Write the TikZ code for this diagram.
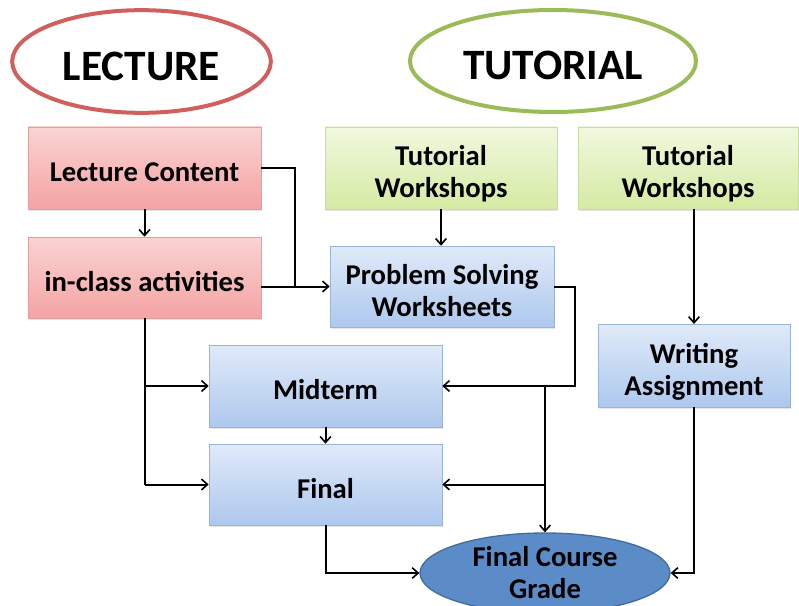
\documentclass[tikz,border=0pt]{standalone}
\usepackage{fontspec}
\setmainfont{Carlito}
\usetikzlibrary{arrows.meta,shapes.geometric,shadows}
\definecolor{pinktop}{HTML}{FBD3D3}
\definecolor{pinkbot}{HTML}{F4A3A3}
\definecolor{pinkline}{HTML}{E0A0A0}
\definecolor{greentop}{HTML}{F0F8DF}
\definecolor{greenbot}{HTML}{D5EAA2}
\definecolor{greenline}{HTML}{C8DCA0}
\definecolor{bluetop}{HTML}{E0EAF9}
\definecolor{bluebot}{HTML}{ADC8EE}
\definecolor{blueline}{HTML}{9AB4D8}
\definecolor{redring}{HTML}{D0605E}
\definecolor{greenring}{HTML}{9BBB59}
\definecolor{gradefill}{HTML}{5B8CC8}
\definecolor{gradeline}{HTML}{3F6E9E}
\newcommand\boxtxt[1]{\raisebox{-5.5pt}[\height][\depth]{\begin{tabular}{@{}c@{}}#1\end{tabular}}}
\newcommand\ringtxt[1]{\raisebox{-3.5pt}[\height][\depth]{#1}}
\begin{document}
\begin{tikzpicture}[x=0.75pt,y=-0.75pt,
  box/.style={rectangle, inner sep=0pt,
    font=\fontsize{21.5}{24}\selectfont\bfseries,
    drop shadow={opacity=0.2,shadow xshift=1pt,shadow yshift=-1.5pt}},
  pinkbox/.style={box, draw=pinkline, top color=pinktop, bottom color=pinkbot},
  greenbox/.style={box, draw=greenline, top color=greentop, bottom color=greenbot},
  bluebox/.style={box, draw=blueline, top color=bluetop, bottom color=bluebot},
  ring/.style={ellipse, line width=3pt, fill=white, inner sep=0pt,
    font=\fontsize{32.5}{36}\selectfont\bfseries},
  conn/.style={line width=1.5pt, black},
  arr/.style={conn, -{Straight Barb[length=4.5pt,width=8pt,line width=1.2pt]}}
]
\useasboundingbox (0,0) rectangle (799,606);

\node[ring, draw=redring, minimum width=194pt, minimum height=77pt] (lec) at (141.5,61.5) {\ringtxt{LECTURE}};
\node[ring, draw=greenring, minimum width=214.5pt, minimum height=76.5pt] (tut) at (553,61) {\ringtxt{TUTORIAL}};

\node[pinkbox, minimum width=174.75pt, minimum height=61.5pt] (lc) at (144.5,168) {\boxtxt{Lecture Content}};
\node[pinkbox, minimum width=174.75pt, minimum height=60.75pt] (ica) at (144.5,277.5) {\boxtxt{in-class activities}};
\node[greenbox, minimum width=174pt, minimum height=61.5pt] (tw1) at (441,168) {\boxtxt{Tutorial\\Workshops}};
\node[greenbox, minimum width=165pt, minimum height=61.5pt] (tw2) at (688,168) {\boxtxt{Tutorial\\Workshops}};
\node[bluebox, minimum width=168pt, minimum height=60.75pt] (psw) at (442,286.5) {\boxtxt{Problem Solving\\Worksheets}};
\node[bluebox, minimum width=144pt, minimum height=62pt] (wa) at (694,365.5) {\boxtxt{Writing\\Assignment}};
\node[bluebox, minimum width=174.75pt, minimum height=61.5pt] (mid) at (325.5,386) {\boxtxt{Midterm}};
\node[bluebox, minimum width=174.75pt, minimum height=60.75pt] (fin) at (325.5,484.5) {\boxtxt{Final}};
\node[ellipse, draw=gradeline, fill=gradefill, line width=1pt, inner sep=0pt,
  minimum width=187.5pt, minimum height=60pt, align=center,
  font=\fontsize{21.5}{24}\selectfont\bfseries] (fcg) at (545,573) {Final Course\\Grade};

\coordinate (j1) at (295,286.5);
\draw[conn] (lc.east) -| (j1);
\draw[arr] (lc.south) -- (ica.north);
\draw[arr] (ica.east |- psw.west) -- (psw.west);
\draw[arr] (tw1.south) -- (tw1.south |- psw.north);
\draw[arr] (wa.north |- tw2.south) -- (wa.north);

\coordinate (lb) at (ica.south |- fin.west);
\draw[conn] (ica.south) -- (lb);
\draw[arr] (ica.south |- mid.west) -- (mid.west);
\draw[arr] (lb) -- (fin.west);

\coordinate (r1) at (575,386);
\draw[arr] (psw.east) -| (r1) -- (mid.east);
\coordinate (r2) at (fcg.north |- mid.east);
\draw[arr] (r2) -- (fcg.north);
\draw[arr] (fcg.north |- fin.east) -- (fin.east);
\draw[arr] (mid.south) -- (fin.north);
\draw[arr] (fin.south) |- (fcg.west);
\draw[arr] (wa.south) |- (fcg.east);
\end{tikzpicture}
\end{document}
